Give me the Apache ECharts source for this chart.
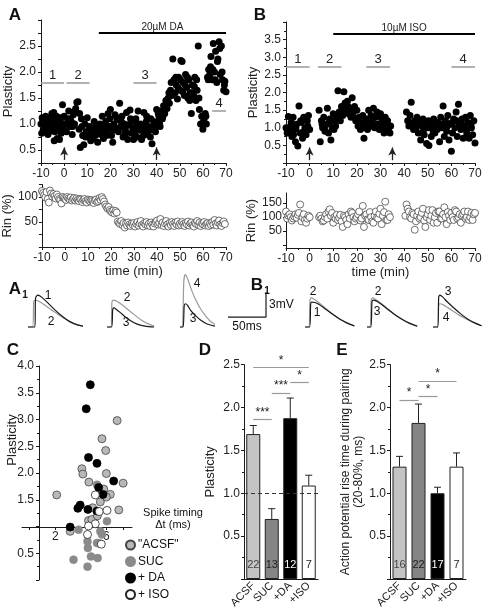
<!DOCTYPE html>
<html><head><meta charset="utf-8">
<script src="https://cdn.jsdelivr.net/npm/echarts@6/dist/echarts.min.js"></script>
<style>html,body{margin:0;padding:0;background:#fff}#c{width:490px;height:613px}</style>
</head><body><div id="c"></div>
<script>
// ---------------- DATA ----------------
const timeTicks = [-10, 0, 10, 20, 30, 40, 50, 60, 70];
const plastA = [[-10,1.0],[-9.7,0.82],[-9.5,1.12],[-9.3,1.05],[-9,0.9],[-8.7,1.1],[-8.5,0.98],[-8.3,0.85],[-8,1.15],[-7.7,0.95],[-7.3,1.08],[-7,0.8],[-6.7,1.0],[-6.5,0.85],[-6.3,1.12],[-6,0.92],[-5.7,1.05],[-5.5,0.9],[-5.3,1.2],[-5,0.97],[-4.7,1.1],[-4.5,1.22],[-4.3,0.68],[-4,0.85],[-3.7,1.0],[-3.3,1.15],[-3,0.72],[-2.7,0.95],[-2.5,0.88],[-2.3,1.05],[-2,0.7],[-1.7,1.12],[-1.5,1.1],[-1.3,0.82],[-1,1.0],[-0.7,1.37],[-0.3,0.9],[0,1.15],
[0.5,1.0],[1,0.85],[1.2,1.0],[1.5,1.1],[2,1.25],[2.5,0.95],[2.7,1.1],[3,1.05],[3.5,0.8],[3.7,0.95],[4,1.18],[4.5,1.0],[4.7,1.25],[5,1.3],[5.5,1.42],[6,1.43],[6.5,0.9],[6.7,1.2],[7,0.55],[7.5,1.1],[7.7,0.95],[8,0.78],[8.5,0.6],[9,1.0],[9.3,0.75],[9.5,0.85],[10,1.12],[10.5,0.75],[10.7,0.88],[11,0.95],[11.5,0.68],[12,0.9],[12.3,0.72],[12.5,0.82],[13,1.05],[13.5,0.78],[13.7,0.95],[14,0.88],[14.5,0.65],[15,0.95],[15.3,0.85],[15.5,1.0],[16,0.8],[16.5,1.15],[16.7,0.95],[17,0.72],[17.5,0.9],[18,1.05],[18.3,0.78],[18.5,0.85],[19,1.2],[19.5,0.95],[19.7,1.1],[20,1.28],[20.5,0.78],[21,0.65],[21.3,0.88],[21.5,1.0],[22,1.18],[22.5,0.9],[22.7,1.12],[23,1.08],[23.3,0.92],[23.5,0.85],[24,1.4],[24.5,0.95],[24.7,1.05],[25,1.15],[25.5,0.75],[26,1.0],[26.3,0.8],[26.5,0.88],[27,1.22],[27.3,0.98],[27.5,0.7],[28,0.98],[28.5,1.27],[28.7,1.1],[29,0.82],[29.5,1.05],[29.7,0.92],[30,0.7],[30.3,0.82],[30.5,0.92],[31,1.1],[31.5,0.75],[31.7,1.0],[32,1.25],[32.5,0.88],[33,1.0],[33.3,0.9],[33.5,0.7],[34,0.95],[34.3,0.78],[34.5,1.22],[35,0.85],[35.5,1.05],[35.7,1.15],[36,0.8],[36.3,0.92],[36.5,0.95],[37,0.88],[37.3,0.75],[37.5,1.1],[38,0.62],[38.5,0.92],[38.7,1.05],[39,1.0],[39.3,0.92],[39.5,0.85],[40,1.28],[40.5,1.05],[40.7,1.2],[41,1.15],[41.3,1.0],[41.5,0.95],[42,1.25],[42.5,1.1],[42.7,1.15],[43,1.35],[43.5,1.2],[44,1.45],[44.3,1.35],[44.5,1.3],[45,1.5],[45.3,1.6],[45.5,1.4],[46,1.65],[46.3,1.8],[46.5,1.55],[47,2.25],[47.5,1.85],[48,1.6],[48.3,1.9],[48.5,1.75],[49,1.48],[49.3,1.7],[49.5,1.9],[50,1.65],[50.3,1.85],[50.5,2.22],[51,2.2],[51.3,1.62],[51.5,1.8],[52,1.55],[52.3,1.75],[52.5,1.95],[53,1.7],[53.3,1.9],[53.5,1.5],[54,1.85],[54.3,1.45],[54.5,1.6],[55,1.2],[55.3,1.6],[55.5,1.75],[56,1.55],[56.3,1.72],[56.5,1.9],[57,1.45],[57.3,1.85],[57.5,1.65],[58,2.5],[58.3,1.5],[58.5,1.28],[59,1.0],[59.5,1.15],[60,0.9],[60.3,1.05],[60.5,1.1],[61,1.2],[61.3,1.15],[61.5,1.0],[62,1.9],[62.3,1.85],[62.5,2.05],[63,1.95],[63.3,2.1],[63.5,2.3],[64,1.85],[64.3,2.05],[64.5,2.55],[65,2.0],[65.3,1.85],[65.5,2.4],[66,1.8],[66.3,2.2],[66.5,2.25],[67,2.58],[67.3,2.45],[67.5,1.95],[68,2.5],[68.3,2.0],[68.5,1.85],[69,1.65],[69.3,1.75],[69.5,1.82],[70,1.62]];
const rinA = [[-10,112],[-9.5,108],[-9,104],[-8.5,99],[-8,110],[-7.5,96],[-7,89],[-6.5,113],[-6,107],[-5.5,101],[-5,106],[-4.5,102],[-4,97],[-3.5,105],[-3,100],[-2.5,96],[-2,94],[-1.5,87],[-1,100],[-0.5,98],[0,96],[0.5,94],[1,100],[1.5,97],[2,95],[2.5,99],[3,93],[3.5,96],[4,98],[4.5,93],[5,97],[5.5,94],[6,92],[6.5,96],[7,95],[7.5,90],[8,94],[8.5,96],[9,92],[9.5,89],[10,95],[10.5,93],[11,91],[11.5,94],[12,92],[12.5,88],[13,93],[13.5,95],[14,90],[14.5,92],[15,98],[15.5,94],[16,100],[16.5,96],[17,91],[17.5,85],[18,81],[18.5,77],[19,80],[19.5,74],[20,71],[20.5,69],[21,73],[21.5,67],[22,72],[22.5,69],[23,51],[23.5,48],[24,46],[24.5,52],[25,44],[25.5,48],[26,39],[26.5,47],[27,43],[27.5,49],[28,45],[28.5,42],[29,47],[29.5,44],[30,48],[30.5,41],[31,46],[31.5,50],[32,43],[32.5,47],[33,52],[33.5,44],[34,41],[34.5,48],[35,45],[35.5,50],[36,43],[36.5,47],[37,42],[37.5,49],[38,45],[38.5,41],[39,47],[39.5,50],[40,53],[40.5,45],[41,48],[41.5,56],[42,44],[42.5,49],[43,42],[43.5,47],[44,52],[44.5,45],[45,41],[45.5,48],[46,44],[46.5,50],[47,46],[47.5,42],[48,49],[48.5,45],[49,51],[49.5,43],[50,47],[50.5,44],[51,50],[51.5,46],[52,42],[52.5,48],[53,45],[53.5,51],[54,43],[54.5,47],[55,49],[55.5,44],[56,41],[56.5,48],[57,46],[57.5,52],[58,44],[58.5,49],[59,42],[59.5,47],[60,45],[60.5,50],[61,43],[61.5,46],[62,48],[62.5,42],[63,47],[63.5,44],[64,50],[64.5,45],[65,54],[65.5,47],[66,43],[66.5,49],[67,53],[67.5,45],[68,42],[68.5,48],[69,51],[69.5,46]];
const plastB = [[-10,1.0],[-9.5,0.85],[-9,1.32],[-8.5,0.9],[-8,1.05],[-7.8,1.15],[-7.5,0.75],[-7,1.3],[-6.8,0.8],[-6.5,0.95],[-6,0.6],[-5.8,1.0],[-5.5,1.1],[-5,0.48],[-4.5,1.62],[-4,0.85],[-3.8,1.2],[-3.5,1.15],[-3,0.7],[-2.8,0.88],[-2.5,1.3],[-2,1.0],[-1.8,1.25],[-1.5,0.8],[-1,1.2],[-0.8,1.05],[-0.5,1.35],[0,0.95],
[4,1.5],[4.5,0.6],[5,1.2],[5.3,1.1],[5.5,1.0],[6,1.3],[6.3,1.0],[6.5,0.9],[7,1.1],[7.5,1.55],[8,0.85],[8.3,1.15],[8.5,1.25],[9,0.65],[9.5,1.0],[10,1.4],[10.3,0.95],[10.5,1.2],[11,1.05],[11.5,1.3],[12,2.05],[12.3,1.3],[12.5,1.45],[13,1.2],[13.5,1.6],[14,1.35],[14.3,1.5],[14.5,2.02],[15,1.7],[15.5,1.5],[16,1.75],[16.3,1.6],[16.5,1.4],[17,1.55],[17.5,1.3],[18,1.85],[18.3,1.35],[18.5,1.45],[19,1.6],[19.5,1.2],[20,1.5],[20.3,1.25],[20.5,1.05],[21,1.3],[21.5,0.95],[22,1.15],[22.3,1.0],[22.5,1.35],[23,0.7],[23.5,1.1],[24,1.25],[24.3,1.15],[24.5,0.95],[25,1.5],[25.5,1.05],[26,1.35],[26.3,1.05],[26.5,1.2],[27,1.55],[27.5,1.0],[28,1.3],[28.3,1.1],[28.5,1.45],[29,1.1],[29.5,0.95],[30,1.4],[30.3,1.0],[30.5,1.25],[31,1.1],[31.5,0.85],[32,1.3],[32.3,1.15],[32.5,1.0],[33,1.2],[33.5,0.9],[34,0.85],[34.3,1.05],
[41,1.45],[41.5,1.2],[42,1.05],[42.3,1.15],[42.5,1.35],[43,1.72],[43.5,1.1],[44,0.95],[44.3,1.05],[44.5,1.2],[45,1.0],[45.5,1.3],[46,0.85],[46.3,1.2],[46.5,1.1],[47,0.65],[47.5,1.05],[48,1.25],[48.3,0.95],[48.5,0.8],[49,1.1],[49.5,0.55],[50,1.0],[50.3,1.2],[50.5,0.5],[51,1.15],[51.5,0.75],[52,1.0],[52.3,0.9],[52.5,1.25],[53,0.85],[53.5,1.1],[54,0.95],[54.3,1.15],[54.5,1.05],[55,0.6],[55.5,1.3],[56,1.0],[56.3,1.1],[56.5,1.62],[57,0.75],[57.5,1.2],[58,0.9],[58.3,1.05],[58.5,1.35],[59,0.65],[59.5,1.1],[60,0.33],[60.3,1.15],[60.5,0.85],[61,1.25],[61.5,1.0],[62,1.45],[62.3,1.2],[62.5,0.75],[63,1.67],[63.5,1.1],[64,0.95],[64.3,1.1],[64.5,1.25],[65,0.7],[65.5,1.05],[66,1.3],[66.3,0.95],[66.5,0.85],[67,1.15],[67.5,0.7],[68,1.35],[68.3,1.1],[68.5,1.0],[69,0.8],[69.5,1.2],[70,0.57]];
const rinB = [[-10,120],[-9.5,95],[-9,105],[-8.5,110],[-8,100],[-7.5,88],[-7,95],[-6.5,102],[-6,110],[-5.5,98],[-5,108],[-4.5,115],[-4,145],[-3.5,85],[-3,100],[-2.5,110],[-2,90],[-1.5,80],[-1,95],[-0.5,105],[0,100],
[4,100],[4.5,105],[5,95],[5.5,85],[6,88],[6.5,100],[7,110],[7.5,95],[8,120],[8.5,128],[9,105],[9.5,115],[10,80],[10.5,100],[11,95],[11.5,108],[12,90],[12.5,98],[13,108],[13.5,85],[14,65],[14.5,105],[15,100],[15.5,90],[16,75],[16.5,110],[17,95],[17.5,120],[18,115],[18.5,100],[19,85],[19.5,95],[20,100],[20.5,110],[21,120],[21.5,88],[22,95],[22.5,140],[23,65],[23.5,105],[24,110],[24.5,92],[25,90],[25.5,118],[26,100],[26.5,85],[27,80],[27.5,105],[28,120],[28.5,98],[29,95],[29.5,112],[30,130],[30.5,75],[31,105],[31.5,118],[32,155],[32.5,90],[33,90],[33.5,110],[34,100],
[40.5,105],[41,145],[41.5,130],[42,120],[42.5,100],[43,95],[43.5,115],[44,110],[44.5,55],[45,85],[45.5,105],[46,120],[46.5,95],[47,100],[47.5,115],[48,130],[48.5,88],[49,65],[49.5,100],[50,110],[50.5,125],[51,90],[51.5,105],[52,125],[52.5,80],[53,100],[53.5,115],[54,80],[54.5,120],[55,120],[55.5,95],[56,95],[56.5,110],[57,135],[57.5,100],[58,75],[58.5,118],[59,105],[59.5,90],[60,115],[60.5,100],[61,90],[61.5,125],[62,120],[62.5,95],[63,100],[63.5,110],[64,80],[64.5,105],[65,110],[65.5,120],[66,95],[66.5,100],[67,120],[67.5,90],[68,100],[68.5,115],[69,90],[69.5,110],[70,115]];

// EPSP traces [ms, mV]
const a1g1Black = [[0,0],[9,0],[10,3.5],[13,3.85],[18,3.6],[25,3.0],[35,2.1],[45,1.3],[55,0.65],[65,0.25],[75,0.05]];
const a1g1Gray  = [[0,0],[6,0],[7.5,3.0],[9,3.25],[12,3.2],[18,2.9],[25,2.45],[35,1.8],[45,1.2],[55,0.65],[65,0.25],[75,0.05]];
const a1g2Gray  = [[0,0],[5,0],[6.5,3.0],[8,3.25],[12,3.15],[18,2.8],[25,2.3],[35,1.55],[45,0.85],[55,0.35],[62,0.1]];
const a1g2Black = [[0,0],[6,0],[7.5,2.1],[9,2.3],[12,2.15],[18,1.7],[25,1.15],[35,0.55],[45,0.2],[55,0.05],[62,0]];
const a1g3Gray  = [[0,0],[3,0],[5,5.5],[7,6.3],[10,5.8],[15,4.5],[20,3.4],[27,2.2],[35,1.2],[40,0.7],[46,0.3]];
const a1g3Black = [[0,0],[4,0],[5.5,2.5],[7,2.8],[10,2.6],[14,2.0],[20,1.4],[27,0.85],[35,0.4],[46,0.1]];
const b1g1Gray  = [[0,0],[5,0],[6.5,3.2],[8,3.5],[12,3.35],[18,2.95],[25,2.4],[35,1.65],[45,1.0],[55,0.5],[65,0.12]];
const b1g1Black = [[0,0],[6,0],[7.5,2.8],[9,3.0],[13,2.95],[18,2.75],[25,2.3],[35,1.62],[45,1.0],[55,0.5],[65,0.12]];
const b1g2Gray  = [[0,0],[4,0],[5.5,3.2],[7,3.5],[11,3.35],[17,2.95],[25,2.35],[35,1.6],[45,0.95],[55,0.45],[66,0.1]];
const b1g2Black = [[0,0],[5,0],[6.5,3.0],[8,3.25],[12,3.15],[18,2.8],[25,2.3],[35,1.6],[45,1.0],[55,0.5],[66,0.1]];
const b1g3Black = [[0,0],[6,0],[7.5,3.6],[9,3.85],[13,3.6],[18,3.1],[25,2.5],[35,1.7],[45,1.0],[55,0.5],[64,0.15]];
const b1g3Gray  = [[0,0],[6,0],[7.5,2.6],[9,2.8],[13,2.7],[18,2.4],[25,2.0],[35,1.4],[45,0.9],[55,0.45],[64,0.12]];
const scaleBarMs = [0, 50];
const scaleBarMv = [0, 3];

// Panel C: [spike timing (ms), plasticity]
const cACSF = [[6.84,2.98],[5.66,2.64],[5.95,2.42],[4.09,2.08],[4.17,1.98],[6.0,1.99],[4.64,1.83],[7.31,1.81],[6.31,1.6],[6.0,1.55],[2.13,1.59],[4.93,1.35],[6.97,1.31],[5.53,1.46],[3.18,0.91],[4.61,1.11],[4.87,1.13],[5.8,1.7],[5.3,1.2]];
const cSUC = [[5.27,1.78],[3.83,0.94],[5.53,0.91],[6.05,1.1],[4.53,0.72],[4.56,0.6],[5.27,0.69],[5.66,0.85],[3.44,0.38],[4.8,0.44],[5.32,0.41],[4.53,0.25],[5.48,0.68]];
const cDA = [[4.75,3.65],[4.43,3.2],[4.61,2.29],[5.27,2.18],[6.57,1.85],[5.4,1.73],[5.74,1.6],[3.96,1.4],[3.78,1.34],[4.56,1.32],[5.27,1.29],[3.18,0.99]];
const cISO = [[5.14,1.59],[5.45,1.28],[6.05,1.3],[5.14,1.05],[4.61,1.01],[4.53,0.85],[5.61,0.67]];
const cXLabels = [2, 6];

// Panels D, E
const groups = ['ACSF', 'SUC', '+DA', '+ISO'];
const plastMean = [1.69, 0.70, 1.875, 1.09];
const plastErr  = [0.10, 0.12, 0.235, 0.12];
const plastN    = [22, 13, 12, 7];
const riseMean  = [1.31, 1.82, 1.0, 1.31];
const riseErr   = [0.12, 0.22, 0.07, 0.16];
const riseN     = [16, 22, 17, 7];

// ---------------- STYLE / LAYOUT ----------------
const FONT = 'Liberation Sans';
const INK = '#1a1a1a';
const barColors = ['#c4c4c4', '#858585', '#000000', '#ffffff'];
const nColors = ['#444', '#222', '#fff', '#222'];

function valAxis(grid, o) {
  return Object.assign({
    type: 'value', gridIndex: grid, scale: false,
    axisLine: { show: true, onZero: false, lineStyle: { color: INK, width: 1 } },
    axisTick: { show: true, length: 3, lineStyle: { color: INK } },
    minorTick: { show: false },
    splitLine: { show: false },
    axisLabel: { color: '#222', fontSize: 12, fontFamily: FONT, margin: 4 },
    nameTextStyle: { color: '#222', fontSize: 13, fontFamily: FONT }
  }, o);
}
function hidden(grid, min, max) {
  return { type: 'value', gridIndex: grid, min, max, show: false, splitLine: { show: false } };
}
const timeAxis = (g) => valAxis(g, {
  min: -10, max: 70, interval: 10,
  minorTick: { show: true, splitNumber: 2, length: 2, lineStyle: { color: INK } },
  axisLabel: { color: '#222', fontSize: 12, fontFamily: FONT, margin: 5 }
});

// trace grids: 0 mV at y=327, 8.3 px/mV, 0.76 px/ms
const traceLefts = [28, 107, 180, 228, 305, 367, 433];
const traceGrids = traceLefts.map(l => ({ left: l, top: 268.9, width: 53.2, height: 62.25 }));

const grids = [
  { left: 41, top: 20, width: 185, height: 143 },      // 0 A plasticity
  { left: 41, top: 184.5, width: 185, height: 62.5 },  // 1 A Rin
  { left: 286, top: 22, width: 189, height: 141 },     // 2 B plasticity
  { left: 286, top: 193, width: 189, height: 55 },     // 3 B Rin
  ...traceGrids,                                       // 4..10
  { left: 39, top: 366, width: 93, height: 214 },      // 11 C
  { left: 22, top: 400, width: 110, height: 127 },     // 12 C x-axis at plasticity 1
  { left: 244, top: 364.6, width: 74, height: 214.4 }, // 13 D
  { left: 390, top: 364.6, width: 76, height: 214.4 }  // 14 E
];

const xAxes = [
  timeAxis(0),
  Object.assign(timeAxis(1), { name: 'time (min)', nameLocation: 'middle', nameGap: 17 }),
  timeAxis(2),
  Object.assign(timeAxis(3), { name: 'time (min)', nameLocation: 'middle', nameGap: 16 }),
  ...traceGrids.map((g, i) => hidden(4 + i, 0, 70)),
  hidden(11, 0.75, 8),
  valAxis(12, { min: -0.6, max: 8,
    axisLabel: { color: '#222', fontSize: 12, fontFamily: FONT, margin: 4, customValues: cXLabels },
    axisTick: { show: true, length: 3, lineStyle: { color: INK }, customValues: [0, 2, 3.33, 4.67, 6, 7.33] } }),
  { type: 'category', gridIndex: 13, data: groups,
    axisLine: { lineStyle: { color: INK } }, axisTick: { show: false },
    axisLabel: { rotate: 45, fontSize: 11, fontFamily: FONT, color: '#222', margin: 5, interval: 0 } },
  { type: 'category', gridIndex: 14, data: groups,
    axisLine: { lineStyle: { color: INK } }, axisTick: { show: false },
    axisLabel: { rotate: 45, fontSize: 11, fontFamily: FONT, color: '#222', margin: 5, interval: 0 } }
];

const yAxes = [
  valAxis(0, { min: 0.25, max: 3, interval: 0.25, name: 'Plasticity', nameLocation: 'middle', nameGap: 22,
    axisLabel: { color: '#222', fontSize: 12, fontFamily: FONT, margin: 5,
      formatter: v => (Math.abs(v * 2 - Math.round(v * 2)) < 1e-6 && v <= 2.5) ? v.toFixed(1) : '' } }),
  valAxis(1, { min: 0, max: 125, interval: 25, name: 'Rin (%)', nameLocation: 'middle', nameGap: 22,
    axisLabel: { color: '#222', fontSize: 12, fontFamily: FONT, margin: 4,
      formatter: v => (v === 50 || v === 100) ? String(v) : '' } }),
  valAxis(2, { min: 0, max: 4, interval: 0.5, name: 'Plasticity', nameLocation: 'middle', nameGap: 22,
    minorTick: { show: true, splitNumber: 2, length: 2, lineStyle: { color: INK } },
    axisLabel: { color: '#222', fontSize: 12, fontFamily: FONT, margin: 5,
      formatter: v => (v > 0 && v < 4) ? v.toFixed(1) : '' } }),
  valAxis(3, { min: -10, max: 186, name: 'Rin (%)', nameLocation: 'middle', nameGap: 23,
    axisLabel: { color: '#222', fontSize: 12, fontFamily: FONT, margin: 4, customValues: [50, 100, 150] },
    axisTick: { show: true, length: 3, lineStyle: { color: INK }, customValues: [0, 50, 100, 150] } }),
  ...traceGrids.map((g, i) => hidden(4 + i, -0.5, 7)),
  valAxis(11, { min: 0, max: 4, interval: 0.5,
    minorTick: { show: true, splitNumber: 2, length: 2, lineStyle: { color: INK } },
    axisLabel: { color: '#222', fontSize: 12, fontFamily: FONT, margin: 5,
      formatter: v => (v === 0 || v === 1) ? '' : v.toFixed(1) } }),
  hidden(12, 0, 1),
  valAxis(13, { min: 0, max: 2.5, interval: 0.5, name: 'Plasticity', nameLocation: 'middle', nameGap: 27,
    minorTick: { show: true, splitNumber: 2, length: 2, lineStyle: { color: INK } },
    axisLabel: { color: '#222', fontSize: 12, fontFamily: FONT, margin: 4,
      formatter: v => v === 0 ? '' : v.toFixed(1) } }),
  valAxis(14, { min: 0, max: 2.5, interval: 0.5,
    name: 'Action potential rise time during pairing\n(20-80%, ms)', nameLocation: 'middle', nameGap: 22,
    nameTextStyle: { color: '#222', fontSize: 12, fontFamily: FONT, lineHeight: 13 },
    minorTick: { show: true, splitNumber: 2, length: 2, lineStyle: { color: INK } },
    axisLabel: { color: '#222', fontSize: 12, fontFamily: FONT, margin: 4,
      formatter: v => v === 0 ? '' : v.toFixed(1) } })
];

// markLine helpers (annotation bars, arrows, significance)
function seg(x1, x2, y, text, color, width, fs) {
  return [{ coord: [x1, y], symbol: 'none', lineStyle: { color, width, type: 'solid' },
    label: { show: !!text, formatter: text || '', position: 'insideMiddleTop', distance: 1,
      fontSize: fs, color: '#222', fontFamily: FONT } },
    { coord: [x2, y], symbol: 'none' }];
}
function arrow(x, y1, y2) {
  return [{ coord: [x, y1], symbol: 'none', lineStyle: { color: '#222', width: 1.3, type: 'solid' }, label: { show: false } },
    { coord: [x, y2], symbol: 'arrow', symbolSize: [6, 8] }];
}
const ML = (data) => ({ silent: true, animation: false, symbol: 'none', emphasis: { disabled: true }, data });

const series = [];
// A plasticity
series.push({ type: 'scatter', xAxisIndex: 0, yAxisIndex: 0, data: plastA, symbolSize: 7,
  itemStyle: { color: '#000', opacity: 1 }, silent: true,
  markLine: ML([
    seg(15, 70, 2.75, '20µM DA', '#000', 2, 10),
    seg(-10, 0, 1.79, '1', '#999', 1.5, 13),
    seg(1, 11, 1.79, '2', '#999', 1.5, 13),
    seg(30, 40, 1.79, '3', '#999', 1.5, 13),
    seg(64, 70, 1.25, '4', '#999', 1.5, 13),
    arrow(0, 0.31, 0.55), arrow(40, 0.31, 0.55)
  ]) });
series.push({ type: 'scatter', xAxisIndex: 1, yAxisIndex: 1, data: rinA, symbolSize: 7, silent: true,
  itemStyle: { color: '#fff', borderColor: '#333', borderWidth: 0.7, opacity: 1 } });
// B
series.push({ type: 'scatter', xAxisIndex: 2, yAxisIndex: 2, data: plastB, symbolSize: 7,
  itemStyle: { color: '#000', opacity: 1 }, silent: true,
  markLine: ML([
    seg(10, 70, 3.66, '10µM ISO', '#000', 2, 10),
    seg(-10, 0, 2.72, '1', '#999', 1.5, 13),
    seg(3.5, 13.5, 2.72, '2', '#999', 1.5, 13),
    seg(24, 34, 2.72, '3', '#999', 1.5, 13),
    seg(60, 70, 2.72, '4', '#999', 1.5, 13),
    arrow(0, 0.08, 0.44), arrow(35, 0.08, 0.44)
  ]) });
series.push({ type: 'scatter', xAxisIndex: 3, yAxisIndex: 3, data: rinB, symbolSize: 7, silent: true,
  itemStyle: { color: '#fff', borderColor: '#333', borderWidth: 0.7, opacity: 1 } });

// traces
const traceSets = [
  [a1g1Gray, a1g1Black], [a1g2Gray, a1g2Black], [a1g3Gray, a1g3Black], null,
  [b1g1Gray, b1g1Black], [b1g2Gray, b1g2Black], [b1g3Gray, b1g3Black]
];
traceSets.forEach((set, i) => {
  if (!set) return;
  [['#9a9a9a', set[0]], [INK, set[1]]].forEach(([col, d]) => {
    series.push({ type: 'line', xAxisIndex: 4 + i, yAxisIndex: 4 + i, data: d, showSymbol: false,
      smooth: 0.25, silent: true, clip: false, lineStyle: { color: col, width: 1.2 } });
  });
});
// scale bar (50 ms, 3 mV) at 1.2 mV above baseline
series.push({ type: 'line', xAxisIndex: 7, yAxisIndex: 7, showSymbol: false, silent: true, clip: false,
  data: [[scaleBarMs[0], 1.2 + scaleBarMv[0]], [scaleBarMs[1], 1.2 + scaleBarMv[0]], [scaleBarMs[1], 1.2 + scaleBarMv[1]]],
  lineStyle: { color: INK, width: 1.2 } });

// C scatter
const cStyle = [
  ['"ACSF"', cACSF, '#b8b8b8', '#444', 0.8],
  ['SUC', cSUC, '#8a8a8a', '#8a8a8a', 0.5],
  ['+ DA', cDA, '#000', '#000', 0.8],
  ['+ ISO', cISO, '#fff', '#222', 0.8]
];
cStyle.forEach(([name, d, fill, bc, bw]) => {
  series.push({ type: 'scatter', name, xAxisIndex: 11, yAxisIndex: 11, data: d, symbolSize: 8, silent: true,
    itemStyle: { color: fill, borderColor: bc, borderWidth: bw, opacity: 1 } });
});

// D, E bars
function barSeries(ax, mean, n, sig) {
  return {
    type: 'bar', xAxisIndex: ax, yAxisIndex: ax, barWidth: 14, silent: true,
    data: mean.map((v, i) => ({ value: v, itemStyle: { color: barColors[i], borderColor: '#222', borderWidth: 1 },
      label: { color: nColors[i] } })),
    label: { show: true, position: 'insideBottom', distance: 9, fontSize: 11, fontFamily: FONT,
      formatter: p => String(n[p.dataIndex]) },
    markLine: ML(sig)
  };
}
function errSeries(ax, mean, err) {
  return {
    type: 'custom', xAxisIndex: ax, yAxisIndex: ax, silent: true, z: 1,
    data: mean.map((m, i) => [i, m, err[i]]),
    renderItem: (params, api) => {
      const x = api.value(0), m = api.value(1), e = api.value(2);
      const b = api.coord([x, m]), t = api.coord([x, m + e]);
      const st = { stroke: '#222', lineWidth: 1 };
      return { type: 'group', children: [
        { type: 'line', shape: { x1: b[0], y1: b[1], x2: t[0], y2: t[1] }, style: st },
        { type: 'line', shape: { x1: t[0] - 3.5, y1: t[1], x2: t[0] + 3.5, y2: t[1] }, style: st }
      ] };
    }
  };
}
const dashed = { yAxis: 1, symbol: 'none', lineStyle: { color: '#333', type: [4, 3], width: 1 }, label: { show: false } };
series.push(errSeries(13, plastMean, plastErr));
series.push(barSeries(13, plastMean, plastN, [
  dashed,
  seg(0, 3, 2.465, '*', '#999', 1.2, 12),
  seg(2, 3, 2.29, '*', '#999', 1.2, 12),
  seg(1, 2, 2.17, '***', '#999', 1.2, 12),
  seg(0, 1, 1.86, '***', '#999', 1.2, 12)
]));
series.push(errSeries(14, riseMean, riseErr));
series.push(barSeries(14, riseMean, riseN, [
  seg(1, 3, 2.31, '*', '#999', 1.2, 12),
  seg(1, 2, 2.13, '*', '#999', 1.2, 12),
  seg(0, 1, 2.09, '*', '#999', 1.2, 12)
]));

// text annotations
const T = (x, y, text, fs, extra) => ({ type: 'text', x, y, silent: true,
  style: Object.assign({ text, fontSize: fs, fontFamily: FONT, fill: '#111', align: 'center', verticalAlign: 'middle' }, extra || {}) });
const B = { fontWeight: 'bold' };
const graphics = [
  T(15, 15, 'A', 17, B), T(260, 15, 'B', 17, B),
  T(15, 289, 'A', 17, B), T(25, 295, '1', 10, B),
  T(257, 285, 'B', 17, B), T(267, 291, '1', 10, B),
  T(13, 350, 'C', 17, B), T(205, 350, 'D', 17, B), T(342, 350, 'E', 17, B),
  T(48, 296, '1', 12), T(51, 322, '2', 12),
  T(127, 298, '2', 12), T(126, 323, '3', 12),
  T(197, 284, '4', 12), T(193, 319, '3', 12),
  T(313, 292, '2', 12), T(317, 313, '1', 12),
  T(378, 292, '2', 12), T(377, 312, '3', 12),
  T(448, 292, '3', 12), T(446, 318, '4', 12),
  T(269, 305, '3mV', 12, { align: 'left' }), T(247, 327, '50ms', 12),
  T(173, 513, 'Spike timing', 11), T(173, 525, 'Δt (ms)', 11),
  { type: 'text', x: 12, y: 440, rotation: Math.PI / 2, silent: true,
    style: { text: 'Plasticity', fontSize: 13, fontFamily: FONT, fill: '#222', align: 'center', verticalAlign: 'middle' } }
];

const chart = echarts.init(document.getElementById('c'), null, { renderer: 'canvas' });
chart.setOption({
  animation: false,
  backgroundColor: '#fff',
  textStyle: { fontFamily: FONT },
  grid: grids,
  xAxis: xAxes,
  yAxis: yAxes,
  legend: { data: cStyle.map(c => c[0]), orient: 'vertical', left: 125, top: 539, itemWidth: 9, itemHeight: 9,
    itemGap: 4.5, selectedMode: false, textStyle: { fontSize: 12, fontFamily: FONT, color: '#111', padding: [0, 0, 0, -2] },
    padding: 0 },
  series,
  graphic: graphics
});
</script></body></html>
